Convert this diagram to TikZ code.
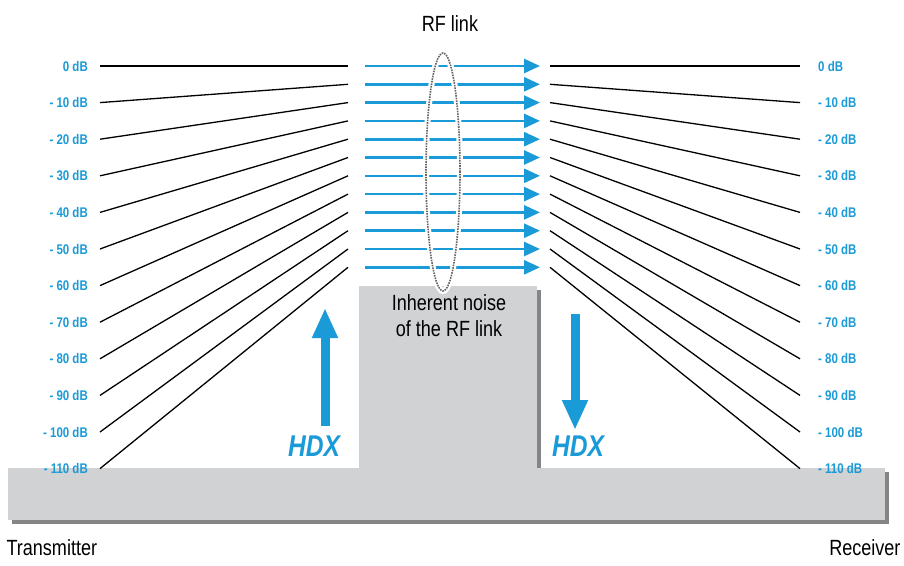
\documentclass[tikz,border=0pt]{standalone}
\usepackage{fontspec}
\setmainfont[FakeStretch=0.82]{Liberation Sans}
\usetikzlibrary{arrows.meta,shadows,shapes.geometric}
\definecolor{hdxblue}{HTML}{1A9AD6}
\definecolor{noisegray}{HTML}{D1D2D4}
\tikzset{
  dblabel/.style={text=hdxblue,font=\bfseries\fontsize{14}{16}\selectfont,inner sep=1pt},
  level/.style={line width=1.3pt},
  link/.style={hdxblue,line width=2.6pt},
  block/.style={fill=noisegray,draw=none,drop shadow={shadow xshift=4pt,shadow yshift=-4pt,fill=black!60,opacity=0.8}},
  bigarrow/.style={hdxblue,line width=9pt,-{Triangle[length=30pt,width=24pt]}},
  hdx/.style={text=hdxblue,font=\bfseries\itshape\fontsize{30}{32}\selectfont},
  bigtext/.style={font=\fontsize{22}{26}\selectfont},
  loop/.style={ellipse,draw=black!60,densely dotted,line width=1.6pt,inner sep=0pt,
    preaction={draw=white,solid,line width=6pt}}
}
\begin{document}
\begin{tikzpicture}[x=1pt,y=-1pt]
  \useasboundingbox (0,0) rectangle (904,565);
  %%%%%%%%%%%%%%%%%%%%%%%%%%%%%%%%%%%%%%%%%%%%%%%
  \node[block,minimum width=178pt,minimum height=200pt,anchor=north west] (noise) at (359,286) {};
  \node[block,minimum width=877pt,minimum height=52pt,anchor=north west] (bar) at (8,468) {};
  \fill[noisegray] (359,460) rectangle (537,475);
  \node[align=center,bigtext] (noisetxt) at (449,316) {Inherent noise\\of the RF link};
  %%%%%%%%%%%%%%%%%%%%%%%%%%%%%%%%%%%%%%%%%%%%%%%
  \foreach \i in {0,...,11}{
    \ifnum\i=0 \def\lab{0 dB}\else\edef\lab{- \the\numexpr10*\i\relax\ dB}\fi
    \node[dblabel,anchor=east] (l\i) at (89,66+36.6*\i) {\lab};
    \node[dblabel,anchor=west] (r\i) at (817,66+36.6*\i) {\lab};
    \coordinate (la\i) at (348,66+18.3*\i);
    \coordinate (ra\i) at (550,66+18.3*\i);
    \coordinate (ls\i) at (100,66+36.6*\i);
    \coordinate (rs\i) at (800,66+36.6*\i);
    \draw[level] (ls\i) -- (la\i);
    \draw[level] (ra\i) -- (rs\i);
    \draw[link,-{Triangle[length=16pt,width=14pt]}] (la\i) ++(17,0) -- ++(175,0);
  }
  %%%%%%%%%%%%%%%%%%%%%%%%%%%%%%%%%%%%%%%%%%%%%%%
  \node[loop,minimum width=34pt,minimum height=238pt] (rf) at (443,172) {};
  \node[bigtext] (rftxt) at (450,24) {RF link};
  %%%%%%%%%%%%%%%%%%%%%%%%%%%%%%%%%%%%%%%%%%%%%%%
  \coordinate (up0) at (325,426);
  \coordinate (up1) at (325,308);
  \coordinate (dn0) at (575,314);
  \coordinate (dn1) at (575,430);
  \draw[bigarrow] (up0) -- (up1);
  \draw[bigarrow] (dn0) -- (dn1);
  \node[hdx] (hdxl) at (314,446) {HDX};
  \node[hdx] (hdxr) at (578,446) {HDX};
  %%%%%%%%%%%%%%%%%%%%%%%%%%%%%%%%%%%%%%%%%%%%%%%
  \node[anchor=west,bigtext] (tx) at (3,548) {Transmitter};
  \node[anchor=east,bigtext] (rx) at (904,548) {Receiver};
\end{tikzpicture}
\end{document}
